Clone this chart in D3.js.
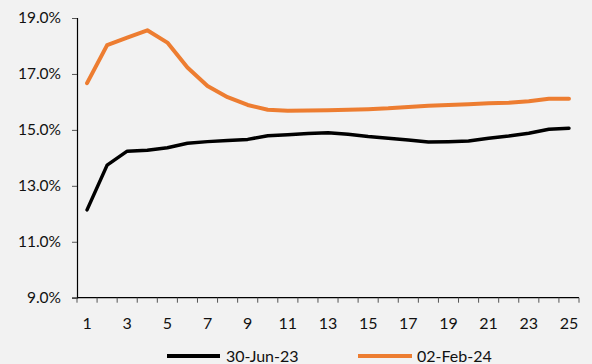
<!DOCTYPE html>
<html>
<head>
<meta charset="utf-8">
<script src="https://cdn.jsdelivr.net/npm/d3@7"></script>
<style>
  html, body { margin: 0; padding: 0; background: #f2f2f2; }
  svg { display: block; }
  text { font-family: Lato, "Open Sans", sans-serif; fill: #111; }
</style>
</head>
<body>
<svg id="chart" width="592" height="364"></svg>
<script>
// Tenor buckets along the x axis
const tenors = d3.range(1, 26);

// Yield curves (%) for the two dates
const jun23 = [12.14, 13.74, 14.24, 14.27, 14.36, 14.52, 14.58, 14.62, 14.66, 14.79,
               14.83, 14.87, 14.90, 14.84, 14.76, 14.70, 14.64, 14.57, 14.58, 14.60,
               14.70, 14.78, 14.88, 15.02, 15.06];
const feb24 = [16.67, 18.03, 18.30, 18.56, 18.12, 17.23, 16.57, 16.17, 15.89, 15.72,
               15.68, 15.69, 15.70, 15.72, 15.74, 15.77, 15.82, 15.86, 15.89, 15.92,
               15.95, 15.97, 16.02, 16.11, 16.11];

const seriesNames = ["30-Jun-23", "02-Feb-24"];
const seriesColors = ["#000000", "#ED7D31"];
const yTicks = [9, 11, 13, 15, 17, 19];
const xTickLabels = [1, 3, 5, 7, 9, 11, 13, 15, 17, 19, 21, 23, 25];

const svg = d3.select("#chart");
const plotLeft = 77, plotRight = 579, plotTop = 18, plotBottom = 297.7;

const x = d3.scaleBand().domain(tenors).range([plotLeft, plotRight]);
const y = d3.scaleLinear().domain([9, 19]).range([plotBottom, plotTop]);

// Y axis
const yAxis = svg.append("g")
  .attr("transform", `translate(${plotLeft},0)`)
  .call(d3.axisLeft(y).tickValues(yTicks).tickSize(5).tickPadding(11)
    .tickFormat(d => d.toFixed(1) + "%"));
yAxis.select(".domain").attr("stroke", "#000").attr("stroke-width", 1.2);
yAxis.selectAll(".tick line").attr("stroke", "#555");
yAxis.selectAll(".tick text").style("font-size", "15.5px").attr("fill", "#111");

// X axis: ticks sit on the band boundaries, labels on every other band centre
const xAxisG = svg.append("g").attr("transform", `translate(0,${plotBottom})`);
xAxisG.append("line")
  .attr("x1", plotLeft).attr("x2", plotRight)
  .attr("stroke", "#000").attr("stroke-width", 1.2);
const bounds = tenors.map(t => x(t)).concat([plotRight]);
xAxisG.selectAll("line.tk").data(bounds).join("line")
  .attr("class", "tk")
  .attr("x1", d => d).attr("x2", d => d)
  .attr("y1", 0).attr("y2", 5)
  .attr("stroke", "#555");
xAxisG.selectAll("text").data(xTickLabels).join("text")
  .attr("x", d => x(d) + x.bandwidth() / 2)
  .attr("y", 31.5)
  .attr("text-anchor", "middle")
  .style("font-size", "16px")
  .text(d => d);

// Lines
const line = d3.line()
  .x((d, i) => x(tenors[i]) + x.bandwidth() / 2)
  .y(d => y(d));

[jun23, feb24].forEach((s, i) => {
  svg.append("path")
    .datum(s)
    .attr("fill", "none")
    .attr("stroke", seriesColors[i])
    .attr("stroke-width", i === 0 ? 3.5 : 4)
    .attr("stroke-linejoin", "round")
    .attr("stroke-linecap", "round")
    .attr("d", line);
});

// Legend
const legendItems = [
  { x1: 167, x2: 220, tx: 226 },
  { x1: 358, x2: 412, tx: 417 }
];
const lg = svg.append("g");
legendItems.forEach((p, i) => {
  lg.append("line")
    .attr("x1", p.x1).attr("x2", p.x2)
    .attr("y1", 356).attr("y2", 356)
    .attr("stroke", seriesColors[i])
    .attr("stroke-width", 4);
  lg.append("text")
    .attr("x", p.tx).attr("y", 361.5)
    .style("font-size", "16px")
    .text(seriesNames[i]);
});
</script>
</body>
</html>
